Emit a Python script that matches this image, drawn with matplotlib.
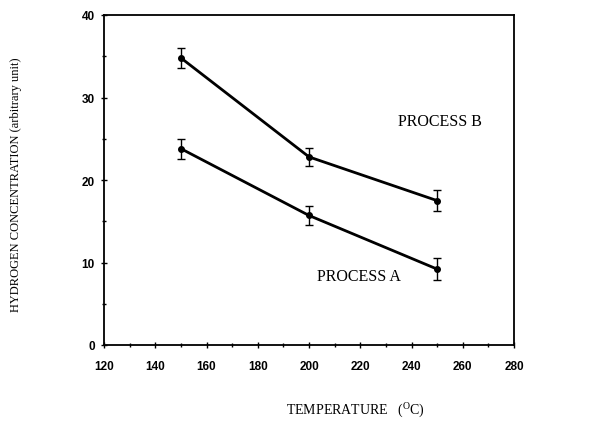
import matplotlib
matplotlib.use("Agg")
import matplotlib.pyplot as plt
from matplotlib.ticker import MultipleLocator

# data
temps = [150, 200, 250]
process_b = [34.8, 22.8, 17.5]
process_b_err = [1.2, 1.1, 1.3]
process_a = [23.8, 15.7, 9.2]
process_a_err = [1.2, 1.2, 1.3]

plt.rcParams['mathtext.fontset'] = 'custom'
plt.rcParams['mathtext.rm'] = 'Liberation Serif'

fig = plt.figure(figsize=(6.16, 4.27), dpi=100)
ax = fig.add_axes([104 / 616, 1 - 346 / 427, 410 / 616, 330 / 427])

ax.errorbar(temps, process_b, yerr=process_b_err, color='black', lw=2,
            marker='o', ms=4, capsize=3, elinewidth=1, capthick=1)
ax.errorbar(temps, process_a, yerr=process_a_err, color='black', lw=2,
            marker='o', ms=4, capsize=3, elinewidth=1, capthick=1)

ax.text(251, 27.2, "PROCESS B", family='Liberation Serif', fontsize=11.5,
        ha='center', va='center')
ax.text(219.5, 8.4, "PROCESS A", family='Liberation Serif', fontsize=11.5,
        ha='center', va='center')

ax.set_xlim(120, 280)
ax.set_ylim(0, 40)
ax.xaxis.set_major_locator(MultipleLocator(20))
ax.xaxis.set_minor_locator(MultipleLocator(10))
ax.yaxis.set_major_locator(MultipleLocator(10))
ax.yaxis.set_minor_locator(MultipleLocator(5))
ax.tick_params(which='both', direction='inout', length=5, width=1)
ax.tick_params(which='minor', length=3)
ax.tick_params(axis='x', pad=8)
ax.tick_params(axis='y', pad=4)
for lab in ax.get_xticklabels() + ax.get_yticklabels():
    lab.set_family('Liberation Sans')
    lab.set_fontweight('bold')
    lab.set_fontsize(8.5)
for sp in ax.spines.values():
    sp.set_linewidth(1.3)

fig.text(355 / 616, 1 - 410 / 427, r"TEMPERATURE   ($^{\mathrm{O}}$C)",
         family='Liberation Serif', fontsize=10, ha='center', va='center')
fig.text(16 / 616, 1 - 185 / 427, "HYDROGEN CONCENTRATION (arbitrary unit)",
         family='Liberation Serif', fontsize=9, rotation=90,
         ha='center', va='center')

fig.savefig("out.png", dpi=100)
